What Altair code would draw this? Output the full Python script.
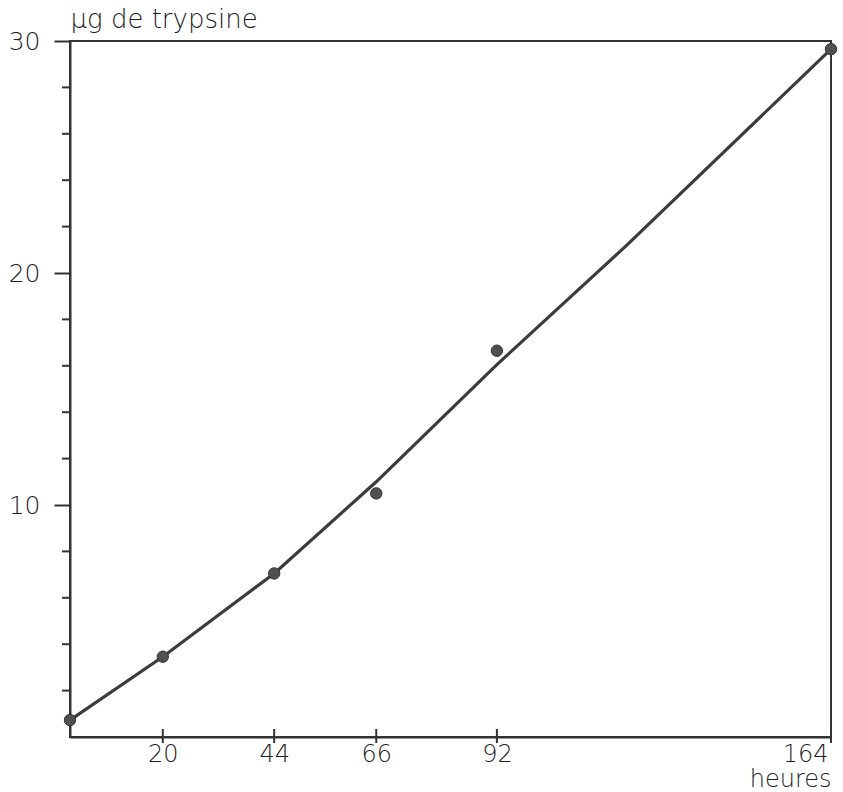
import altair as alt
import pandas as pd

# measured points
hours = [0, 20, 44, 66, 92, 164]
trypsin = [0.73, 3.46, 7.05, 10.5, 16.65, 29.65]

# drawn curve
curve_hours = [0, 20, 44, 66, 92, 120, 164]
curve_trypsin = [0.73, 3.46, 7.05, 11.0, 16.05, 21.2, 29.65]

x_ticks = [20, 44, 66, 92, 164]
y_major = [10, 20, 30]
y_minor = [2, 4, 6, 8, 12, 14, 16, 18, 22, 24, 26, 28]

pts = pd.DataFrame({"h": hours, "t": trypsin})
crv = pd.DataFrame({"h": curve_hours, "t": curve_trypsin})
xt = pd.DataFrame({"h": x_ticks})
ym = pd.DataFrame({"t": y_minor})

W, H = 761, 696
FONT = "DejaVu Sans"
FW = 200
INK = "#333333"
TXT = "#1e1e1e"

xscale = alt.Scale(domain=[0, 164], nice=False, zero=False)
yscale = alt.Scale(domain=[0, 30], nice=False, zero=False)

xaxis = alt.Axis(values=x_ticks, ticks=False, labelPadding=5, labelFontSize=24,
                 labelFont=FONT, labelFontWeight=FW, labelColor=TXT, labelFlush=True,
                 labelFlushOffset=-3,
                 domainColor=INK, domainWidth=2, grid=False,
                 title="heures", titleFont=FONT, titleFontSize=24, titleFontWeight=FW,
                 titleColor=TXT, titleAlign="right", titleBaseline="alphabetic",
                 titleAnchor="end", titleX=W, titleY=49)
yaxis = alt.Axis(values=y_major, tickSize=16, tickWidth=2, tickColor=INK, labelPadding=14,
                 labelFontSize=25, labelFont=FONT, labelFontWeight=FW, labelColor=TXT,
                 domainColor=INK, domainWidth=2, grid=False, labelFlush=False,
                 title="µg de trypsine", titleFont=FONT, titleFontSize=26, titleFontWeight=FW,
                 titleColor=TXT, titleAngle=0, titleAlign="left", titleBaseline="alphabetic",
                 titleAnchor="start", titleX=0, titleY=-14)

line = alt.Chart(crv).mark_line(color="#3c3c3c", strokeWidth=3.2).encode(
    x=alt.X("h:Q", scale=xscale, axis=xaxis),
    y=alt.Y("t:Q", scale=yscale, axis=yaxis),
)
points = alt.Chart(pts).mark_circle(size=130, color="#505050", opacity=1,
                                    stroke="#333333", strokeWidth=1).encode(
    x=alt.X("h:Q", scale=xscale),
    y=alt.Y("t:Q", scale=yscale),
)
xtick_marks = alt.Chart(xt).mark_rule(color=INK, strokeWidth=2).encode(
    x=alt.X("h:Q", scale=xscale),
    y=alt.value(H - 8),
    y2=alt.value(H + 6),
)
ytick_minor = alt.Chart(ym).mark_rule(color=INK, strokeWidth=2).encode(
    y=alt.Y("t:Q", scale=yscale),
    x=alt.value(-8),
    x2=alt.value(0),
)

chart = alt.layer(line, xtick_marks, ytick_minor, points).properties(
    width=W, height=H,
    autosize=alt.AutoSizeParams(type="none"),
    padding={"left": 70, "top": 41, "right": 12, "bottom": 55},
    background="white",
).configure_view(stroke=INK, strokeWidth=2)

chart.save("out.html", embed_options={"renderer": "svg", "actions": False})
